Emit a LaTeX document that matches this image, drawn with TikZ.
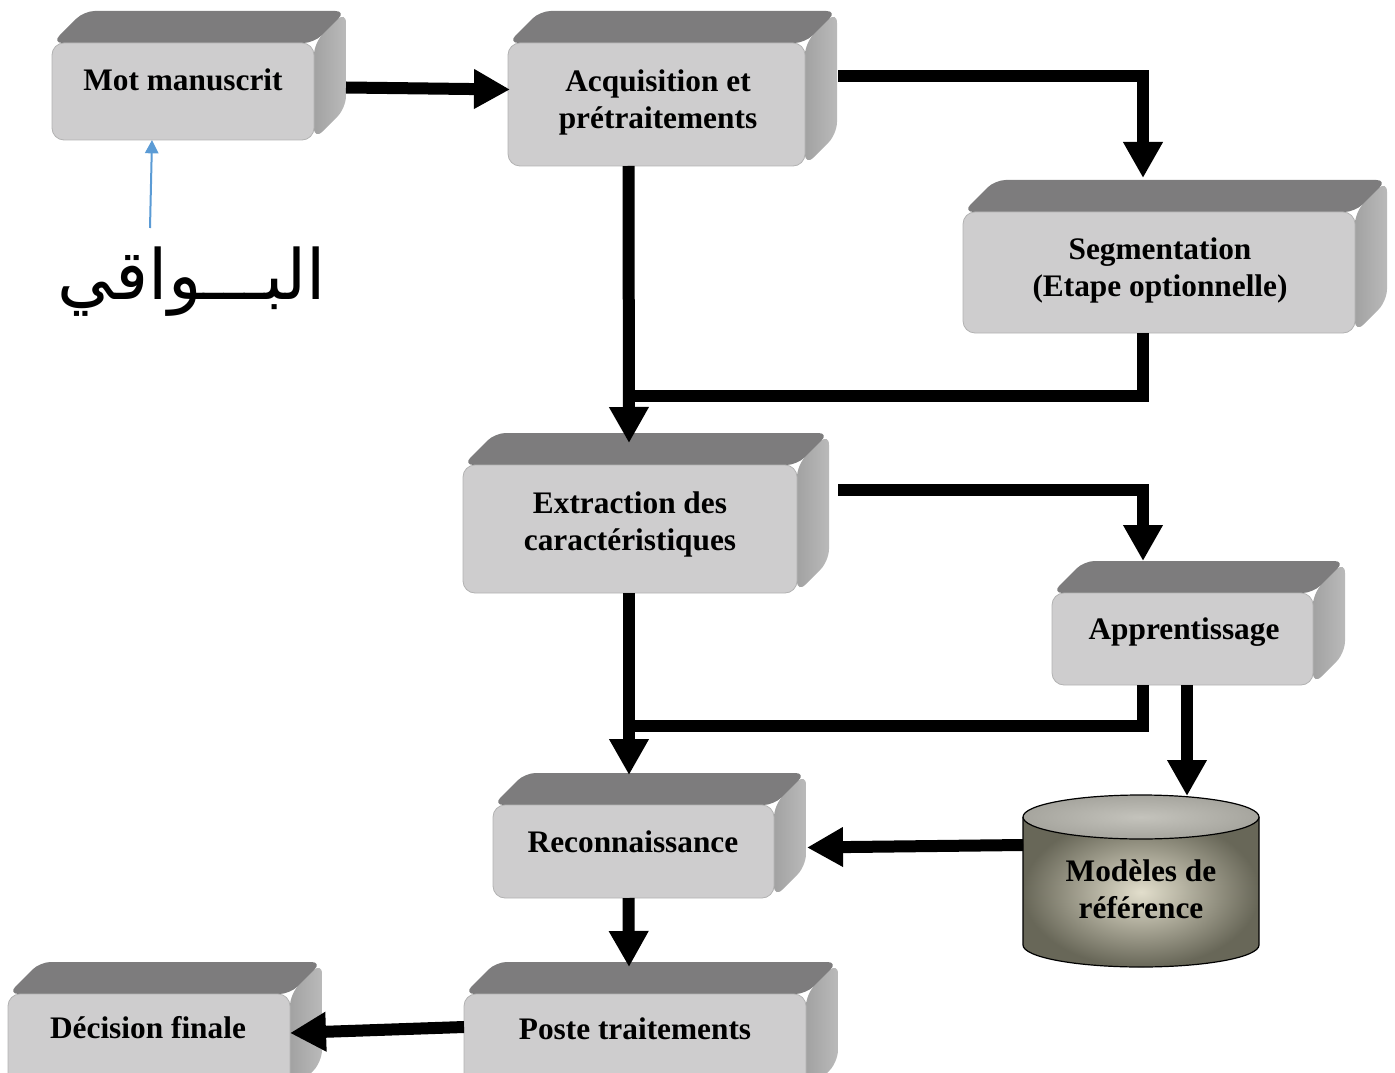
\documentclass[tikz,border=0pt]{standalone}
\usepackage{fontspec}
\setmainfont{Liberation Serif}
\newfontfamily\arabicfont[Script=Arabic]{DejaVu Sans}
\TeXXeTstate=1
\usetikzlibrary{arrows.meta}

\definecolor{frontgray}{RGB}{206,205,206}
\definecolor{edgegray}{RGB}{178,178,178}
\definecolor{topgray}{RGB}{125,124,125}
\definecolor{sidedark}{RGB}{162,162,162}
\definecolor{sidelight}{RGB}{186,186,186}
\definecolor{cyledge}{RGB}{104,103,88}
\definecolor{cylcenter}{RGB}{226,222,204}
\definecolor{cyltop}{RGB}{166,165,158}
\definecolor{cyltopin}{RGB}{196,195,188}
\definecolor{arrowblue}{RGB}{91,155,213}

\begin{document}
\begin{tikzpicture}[x=0.75pt,y=0.75pt,yscale=-1,xscale=1,
  frontface/.style={draw=edgegray, line width=0.6pt, fill=frontgray, rounded corners=9pt, inner sep=0pt, outer sep=0pt},
  topface/.style={fill=topgray, rounded corners=8pt},
  sideface/.style={left color=sidedark, right color=sidelight, rounded corners=9pt},
  lbl/.style={font=\fontsize{23.5}{27.75}\selectfont\bfseries, align=center, inner sep=0.75pt},
  flow/.style={line width=9pt, -{Triangle[width=28pt,length=27pt]}},
  link/.style={line width=9pt},
  handflow/.style={draw=arrowblue, line width=1.5pt, -{Triangle[width=10pt,length=10pt]}}]
\useasboundingbox (0,0) rectangle (1395,1073);

%Box: Mot manuscrit
\shade[sideface] (314,43) -- (346,11) -- (346,108) -- (314,140) -- cycle;
\fill[topface] (52,43) -- (84,11) -- (346,11) -- (314,43) -- cycle;
\node[frontface, minimum width=196.5pt, minimum height=72.75pt] (mot) at (183,91.5) {};
%Box: Acquisition
\shade[sideface] (805,43) -- (837,11) -- (837,134) -- (805,166) -- cycle;
\fill[topface] (508,43) -- (540,11) -- (837,11) -- (805,43) -- cycle;
\node[frontface, minimum width=222.75pt, minimum height=92.25pt] (acq) at (656.5,104.5) {};
%Box: Segmentation
\shade[sideface] (1355,212) -- (1387,180) -- (1387,301) -- (1355,333) -- cycle;
\fill[topface] (963,212) -- (995,180) -- (1387,180) -- (1355,212) -- cycle;
\node[frontface, minimum width=294pt, minimum height=90.75pt] (seg) at (1159,272.5) {};
%Box: Extraction
\shade[sideface] (797,465) -- (829,433) -- (829,561) -- (797,593) -- cycle;
\fill[topface] (463,465) -- (495,433) -- (829,433) -- (797,465) -- cycle;
\node[frontface, minimum width=250.5pt, minimum height=96pt] (ext) at (630,529) {};
%Box: Apprentissage
\shade[sideface] (1313,593) -- (1345,561) -- (1345,653) -- (1313,685) -- cycle;
\fill[topface] (1052,593) -- (1084,561) -- (1345,561) -- (1313,593) -- cycle;
\node[frontface, minimum width=195.75pt, minimum height=69pt] (app) at (1182.5,639) {};
%Box: Reconnaissance
\shade[sideface] (774,805) -- (806,773) -- (806,866) -- (774,898) -- cycle;
\fill[topface] (493,805) -- (525,773) -- (806,773) -- (774,805) -- cycle;
\node[frontface, minimum width=210.75pt, minimum height=69.75pt] (rec) at (633.5,851.5) {};
%Box: Poste traitements
\shade[sideface] (806,994) -- (838,962) -- (838,1062) -- (806,1094) -- cycle;
\fill[topface] (464,994) -- (496,962) -- (838,962) -- (806,994) -- cycle;
\node[frontface, minimum width=256.5pt, minimum height=75pt] (pos) at (635,1044) {};
%Box: Decision finale
\shade[sideface] (290,994) -- (322,962) -- (322,1062) -- (290,1094) -- cycle;
\fill[topface] (8,994) -- (40,962) -- (322,962) -- (290,994) -- cycle;
\node[frontface, minimum width=211.5pt, minimum height=75pt] (dec) at (149,1044) {};

%Shape: Cylinder
\shade[inner color=cylcenter, outer color=cyledge] (1023,817) -- (1023,945) arc[start angle=180, end angle=0, x radius=118, y radius=22] -- (1259,817) -- cycle;
\draw[line width=0.9pt] (1023,817) -- (1023,945) arc[start angle=180, end angle=0, x radius=118, y radius=22] -- (1259,817);
\shadedraw[inner color=cyltopin, outer color=cyltop, draw=black, line width=0.9pt] (1141,817) ellipse [x radius=118, y radius=22];

% Text Node
\node[lbl] (mottxt) at (183,80) {Mot manuscrit};
\node[lbl] (acqtxt) at (658,102) {Acquisition et\\prétraitements};
\node[lbl] (segtxt) at (1160,270) {Segmentation\\(Etape optionnelle)};
\node[lbl] (exttxt) at (630,524) {Extraction des\\caractéristiques};
\node[lbl] (apptxt) at (1184,632) {Apprentissage};
\node[lbl] (rectxt) at (633,842) {Reconnaissance};
\node[lbl] (postxt) at (635,1029) {Poste traitements};
\node[lbl] (dectxt) at (148,1028) {Décision finale};
\node[lbl] (mod) at (1141,889) {Modèles de\\référence};
\node[font=\arabicfont\fontsize{52}{58}\selectfont, inner sep=0pt] (ara) at (192,282) {\beginR البـــواقي\endR};

%Arrows
\draw[handflow] ([shift={(-42,-54)}]ara.center) -- ([shift={(-31,0)}]mot.south);
\draw[flow] ([shift={(32,-4)}]mot.east) -- ([shift={(2,-15)}]acq.west);
\draw[flow] ([shift={(33,-28)}]acq.east) -| ([shift={(-16,-34)}]seg.north);
\draw[flow] ([shift={(-28,0)}]acq.south) -- ([shift={(-1,-22)}]ext.north);
\draw[link] ([shift={(-16,0)}]seg.south) |- ([shift={(-1,-69)}]ext.north);
\draw[flow] ([shift={(41,-39)}]ext.east) -| ([shift={(-39.5,-32)}]app.north);
\draw[flow] ([shift={(-1,0)}]ext.south) -- ([shift={(-4.5,-30)}]rec.north);
\draw[link] ([shift={(-39.5,0)}]app.south) |- ([shift={(-4.5,-79)}]rec.north);
\draw[flow] ([shift={(4.5,0)}]app.south) -- ([shift={(46,-93)}]mod.center);
\draw[flow] ([shift={(-118,-44)}]mod.center) -- ([shift={(33,-4)}]rec.east);
\draw[flow] ([shift={(-5,0)}]rec.south) -- ([shift={(-6,-27)}]pos.north);
\draw[flow] ([shift={(0,-17)}]pos.west) -- ([shift={(0,-11)}]dec.east);

\end{tikzpicture}
\end{document}
